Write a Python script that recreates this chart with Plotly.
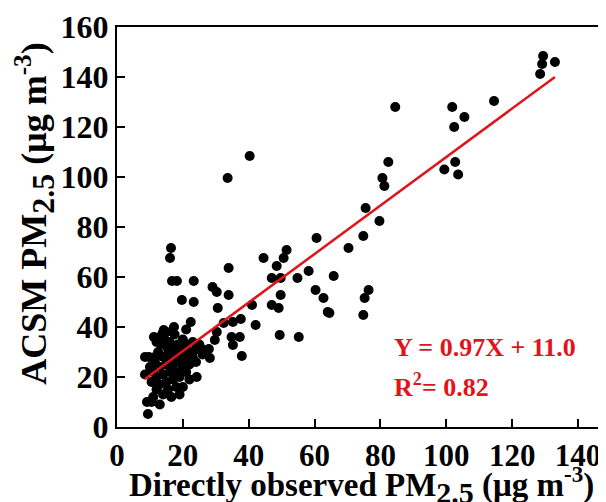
import plotly.graph_objects as go

# Directly observed PM2.5 (x) vs ACSM PM2.5 (y)
obs_x = [129.4, 129.1, 128.5, 133.0, 84.5, 101.8, 105.5, 102.4, 114.5,
         99.4, 102.7, 103.6, 82.4, 80.6, 81.2, 79.7,
         75.5, 74.8, 70.3, 65.8, 76.4, 75.2, 64.5, 74.8,
         60.6, 44.5, 51.5, 50.6, 48.5, 33.9, 58.2, 47.0, 49.7, 54.8, 29.0, 30.3, 33.9, 49.7,
         60.3, 62.7, 64.0, 41.0, 47.0, 49.1, 30.6, 37.6, 35.2, 32.4, 42.1, 30.3, 34.8, 37.3,
         29.7, 35.2, 49.4, 55.2, 25.8, 27.9, 28.2, 37.9,
         40.3, 33.6,
         16.4, 16.1, 16.7, 18.2, 23.3, 19.7, 23.3, 22.4, 17.3, 14.2, 13.9, 11.2,
         8.5, 9.7, 24.2, 9.1, 10.5, 9.4,
         10.5, 11.0, 11.5, 12.0, 12.0, 12.5, 13.0, 13.0, 13.5, 14.0, 14.0, 14.0, 14.5, 15.0,
         15.0, 15.5, 15.5, 16.0, 16.0, 16.0, 16.5, 17.0, 17.0, 17.0, 17.5, 18.0, 18.0, 18.0,
         18.5, 19.0, 19.0, 19.0, 19.5, 20.0, 20.0, 20.0, 21.0, 21.0, 21.0, 22.0, 22.0, 22.0,
         23.0, 23.0, 24.0, 24.0, 12.0, 13.0, 15.0, 20.0, 21.0, 25.0, 26.0, 11.0, 13.0,
         8.5, 10.0, 11.5]
acsm_y = [148.4, 145.2, 141.2, 146.0, 128.0, 128.0, 124.0, 120.0, 130.4,
          103.0, 106.0, 101.0, 106.0, 99.6, 96.4, 82.4,
          87.6, 76.4, 71.6, 60.4, 54.8, 51.6, 45.6, 44.8,
          75.6, 67.6, 70.8, 67.6, 64.4, 63.6, 62.4, 59.6, 59.6, 59.6, 56.0, 54.0, 52.8, 52.8,
          54.8, 51.6, 46.0, 48.8, 48.8, 47.6, 47.6, 43.2, 42.0, 41.6, 40.8, 38.0, 36.0, 36.0,
          34.8, 32.8, 36.8, 36.0, 31.2, 31.2, 27.6, 28.4,
          108.4, 99.6,
          71.6, 67.6, 58.4, 58.4, 58.4, 50.8, 50.0, 42.0, 40.0, 38.8, 37.6, 36.0,
          28.0, 28.0, 20.0, 10.0, 10.0, 5.2,
          18.0, 22.0, 26.0, 15.0, 20.0, 30.0, 24.0, 17.0, 33.0, 28.0, 21.0, 13.0, 35.0, 25.0,
          18.0, 31.0, 15.0, 22.0, 28.0, 34.0, 12.0, 19.0, 25.0, 31.0, 37.0, 16.0, 22.0, 28.0,
          33.0, 20.0, 26.0, 13.0, 31.0, 24.0, 29.0, 35.0, 22.0, 27.0, 33.0, 25.0, 30.0, 19.0,
          28.0, 34.0, 26.0, 31.0, 34.0, 36.0, 38.0, 16.0, 39.0, 33.0, 29.0, 12.0, 9.0,
          21.0, 24.0, 28.0]

slope = 0.97
intercept = 11.0
r_squared = 0.82

x_ticks = [0, 20, 40, 60, 80, 100, 120, 140]
y_ticks = [0, 20, 40, 60, 80, 100, 120, 140, 160]

FONT = "Liberation Serif"
RED = "#e0141b"

xmin, xmax = min(obs_x), max(obs_x)
line_x = [xmin, xmax]
line_y = [slope * v + intercept for v in line_x]

fig = go.Figure()
fig.add_trace(go.Scatter(x=obs_x, y=acsm_y, mode="markers",
                         marker=dict(color="black", size=10, line=dict(width=0)),
                         showlegend=False))
fig.add_trace(go.Scatter(x=line_x, y=line_y, mode="lines",
                         line=dict(color=RED, width=2.5), showlegend=False))

fig.add_annotation(x=83.5, y=32, xref="x", yref="y", xanchor="left", yanchor="middle",
                   text=f"<b>Y = {slope:.2f}X + {intercept:.1f}</b>", showarrow=False,
                   font=dict(family=FONT, size=26, color=RED))
fig.add_annotation(x=83.5, y=16.5, xref="x", yref="y", xanchor="left", yanchor="middle",
                   text=f"<b>R<sup>2</sup>= {r_squared:.2f}</b>", showarrow=False,
                   font=dict(family=FONT, size=26, color=RED))

SUBX = '<sub><span style="font-size:30px">2.5</span></sub>'
SUBY = '<sub><span style="font-size:32px">2.5</span></sub>'

# x-axis title as a fixed-position annotation (axis title standoff is ignored without automargin)
fig.add_annotation(x=0.5, y=-0.145, xref="paper", yref="paper",
                   xanchor="center", yanchor="middle", showarrow=False,
                   text=f"<b>Directly observed PM{SUBX} (μg m<sup>-3</sup>)</b>",
                   font=dict(family=FONT, size=33, color="black"))

fig.update_layout(
    width=598, height=494,
    margin=dict(l=109, r=0, t=19, b=75),
    paper_bgcolor="white", plot_bgcolor="white",
    font=dict(family=FONT, color="black"),
)
fig.update_xaxes(
    range=[0, 148.5], tickvals=x_ticks, ticktext=[f"<b>{v}</b>" for v in x_ticks],
    ticks="inside", ticklen=8, tickwidth=1.5, tickcolor="black",
    showline=True, linecolor="black", linewidth=2, mirror=True,
    showgrid=False, zeroline=False, automargin=False,
    tickfont=dict(family=FONT, size=31, color="black"),
)
fig.update_yaxes(
    range=[0, 160], tickvals=y_ticks, ticktext=[f"<b>{v}</b>" for v in y_ticks],
    ticks="inside", ticklen=8, tickwidth=1.5, tickcolor="black",
    showline=True, linecolor="black", linewidth=2, mirror=False,
    showgrid=False, zeroline=False, automargin=False,
    tickfont=dict(family=FONT, size=32, color="black"),
    title=dict(text=f"<b>&nbsp;&nbsp;&nbsp;ACSM PM{SUBY} (μg m<sup>-3</sup>)</b>",
               font=dict(family=FONT, size=36, color="black"), standoff=3),
)

fig.write_html("out.html")
